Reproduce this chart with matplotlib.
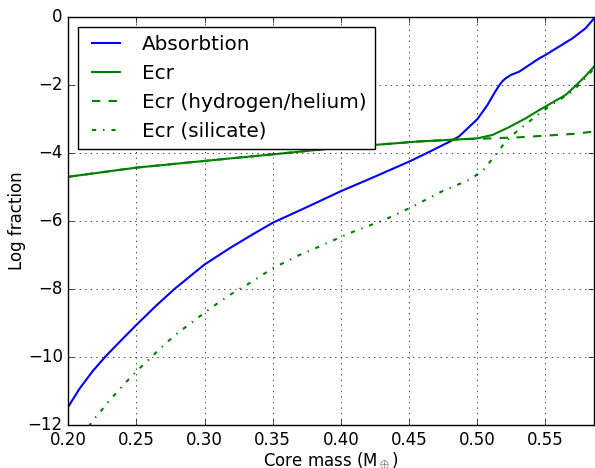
import matplotlib
matplotlib.use("Agg")
import matplotlib.pyplot as plt

plt.style.use("classic")

# Absorbtion
abs_x = [0.200, 0.2081, 0.2178, 0.2276, 0.2373, 0.2501, 0.2642, 0.2776,
         0.2996, 0.3184, 0.335, 0.3501, 0.3746, 0.4002, 0.4258, 0.4502, 0.4647,
         0.4806, 0.4868, 0.5002, 0.5075, 0.5124, 0.516, 0.5185, 0.521, 0.525,
         0.5307, 0.5454, 0.550, 0.5698, 0.5796, 0.5857]
abs_y = [-11.46, -10.94, -10.42, -9.97, -9.57, -9.05, -8.50, -8.01,
         -7.29, -6.80, -6.40, -6.05, -5.60, -5.12, -4.68, -4.25, -3.97,
         -3.65, -3.51, -3.00, -2.59, -2.25, -2.02, -1.89, -1.80, -1.70,
         -1.61, -1.22, -1.12, -0.63, -0.33, -0.04]

# Ecr (total)
ecr_x = [0.200, 0.250, 0.3111, 0.350, 0.400, 0.4575, 0.4868, 0.5002, 0.5112,
         0.5234, 0.5356, 0.5454, 0.555, 0.565, 0.5723, 0.5796, 0.5857]
ecr_y = [-4.70, -4.43, -4.19, -4.04, -3.84, -3.66, -3.60, -3.57, -3.47,
         -3.24, -2.98, -2.74, -2.52, -2.29, -2.02, -1.73, -1.46]

# Ecr (hydrogen/helium)
hhe_x = [0.200, 0.250, 0.3111, 0.350, 0.400, 0.4575, 0.4868, 0.5002, 0.510,
         0.530, 0.550, 0.570, 0.5857]
hhe_y = [-4.70, -4.43, -4.19, -4.04, -3.84, -3.66, -3.60, -3.58, -3.57,
         -3.54, -3.49, -3.44, -3.37]

# Ecr (silicate)
sil_x = [0.215, 0.2178, 0.2219, 0.2296, 0.2378, 0.2461, 0.2547, 0.2633, 0.2720,
         0.2813, 0.2915, 0.3008, 0.3106, 0.3207, 0.3317, 0.350, 0.3696, 0.3843,
         0.4062, 0.4185, 0.4318, 0.4514, 0.4746, 0.4954, 0.505, 0.5124, 0.5198,
         0.5283, 0.538, 0.5476, 0.557, 0.570, 0.5857]
sil_y = [-12.05, -11.87, -11.69, -11.31, -10.94, -10.58, -10.24, -9.91, -9.58,
         -9.26, -8.96, -8.67, -8.39, -8.12, -7.86, -7.39, -7.00, -6.75,
         -6.36, -6.17, -5.97, -5.60, -5.12, -4.77, -4.48, -4.11, -3.72,
         -3.39, -3.08, -2.78, -2.52, -2.19, -1.52]

fig = plt.figure(figsize=(5.95, 4.68), dpi=100)
ax = fig.add_axes([0.1148, 0.0919, 0.8835, 0.8718])

ax.plot(abs_x, abs_y, color="b", lw=1.5, label="Absorbtion")
ax.plot(ecr_x, ecr_y, color="g", lw=1.5, label="Ecr")
ax.plot(hhe_x, hhe_y, color="g", lw=1.5, ls="--", label="Ecr (hydrogen/helium)")
ax.plot(sil_x, sil_y, color="g", lw=1.5, ls="-.", label="Ecr (silicate)")

ax.set_xlim(0.20, 0.5857)
ax.set_ylim(-12, 0)
ax.set_xticks([0.20, 0.25, 0.30, 0.35, 0.40, 0.45, 0.50, 0.55])
ax.set_xticklabels(["0.20", "0.25", "0.30", "0.35", "0.40", "0.45", "0.50", "0.55"])
ax.set_yticks([-12, -10, -8, -6, -4, -2, 0])
ax.grid(True)
ax.set_xlabel(r"Core mass (M$_\oplus$)", labelpad=1)
ax.set_ylabel("Log fraction", labelpad=1)
ax.legend(loc="upper left")

fig.savefig("out.png", dpi=100)
